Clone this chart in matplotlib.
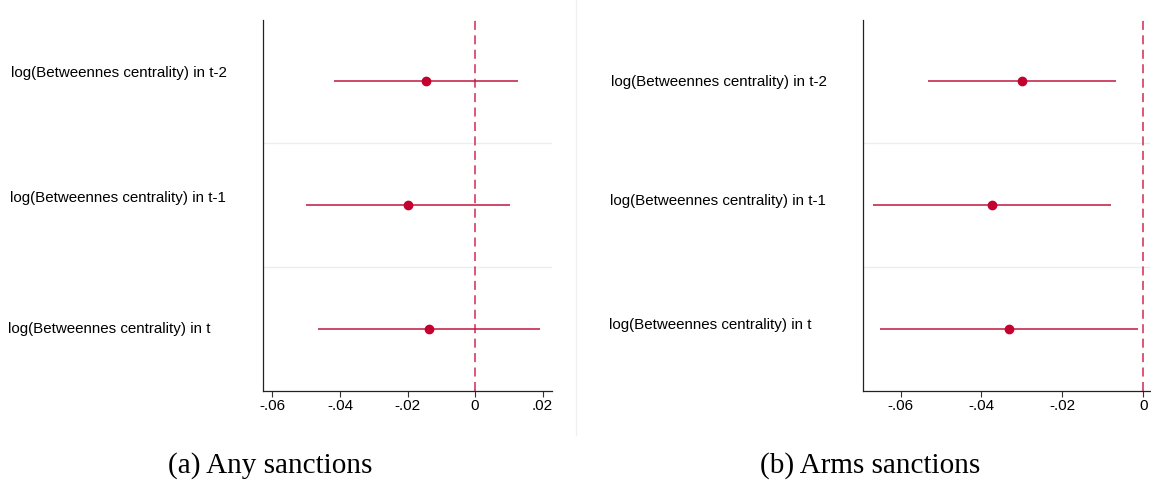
import matplotlib
matplotlib.use("Agg")
import matplotlib.pyplot as plt

labels = ["log(Betweennes centrality) in t-2",
          "log(Betweennes centrality) in t-1",
          "log(Betweennes centrality) in t"]
rows = [1, 2, 3]

any_coef = [-0.0145, -0.0200, -0.0137]
any_lo = [-0.0418, -0.0502, -0.0464]
any_hi = [0.0127, 0.0103, 0.0191]

arms_coef = [-0.0300, -0.0374, -0.0331]
arms_lo = [-0.0532, -0.0667, -0.0650]
arms_hi = [-0.0068, -0.0080, -0.0013]

any_ticks = [-0.06, -0.04, -0.02, 0, 0.02]
any_ticklabels = ["-.06", "-.04", "-.02", "0", ".02"]
arms_ticks = [-0.06, -0.04, -0.02, 0]
arms_ticklabels = ["-.06", "-.04", "-.02", "0"]

captions = ["(a) Any sanctions", "(b) Arms sanctions"]

plt.rcParams['font.family'] = ['Liberation Sans', 'DejaVu Sans']

fig = plt.figure(figsize=(11.51, 4.87), dpi=100)

LINE_C = "#c0183f"
DOT_C = "#c4002f"
ZERO_C = "#d84a6e"
GRID_C = "#e9eef0"

def panel(rect, coef, lo, hi, xlim, ticks, ticklabels, label_xy):
    ax = fig.add_axes(rect)
    for r, c, l, h in zip(rows, coef, lo, hi):
        ax.plot([l, h], [r, r], color=LINE_C, lw=1.1, solid_capstyle='butt', zorder=3)
        ax.plot([c], [r], 'o', color=DOT_C, ms=6, zorder=4)
    ax.axvline(0, color=ZERO_C, lw=1.3, ls=(0, (5, 3)), zorder=2)
    for g in [1.5, 2.5]:
        ax.axhline(g, color=GRID_C, lw=1.0, zorder=1)
    ax.set_ylim(3.5, 0.5)
    ax.set_xlim(*xlim)
    ax.set_yticks([])
    ax.set_xticks(ticks)
    ax.set_xticklabels(ticklabels, fontsize=11)
    ax.tick_params(axis='x', length=4, width=0.8, color="#333333", pad=2)
    for s in ['top', 'right']:
        ax.spines[s].set_visible(False)
    for s in ['left', 'bottom']:
        ax.spines[s].set_color("#222222")
        ax.spines[s].set_linewidth(0.9)
    for lab, (x, y) in zip(labels, label_xy):
        fig.text(x / 1151, 1 - y / 487, lab, fontsize=10.9, ha='left', va='center')
    return ax

panel([263.3 / 1151, 1 - 391 / 487, (551.7 - 263.3) / 1151, (391 - 19.5) / 487],
      any_coef, any_lo, any_hi, (-0.0627, 0.0227), any_ticks, any_ticklabels,
      [(11, 73), (10, 198), (8, 329)])
panel([863.3 / 1151, 1 - 391 / 487, (1150 - 863.3) / 1151, (391 - 19.5) / 487],
      arms_coef, arms_lo, arms_hi, (-0.0692, 0.0017), arms_ticks, arms_ticklabels,
      [(611, 82), (610, 201), (609, 325)])

# faint separator
fig.add_artist(plt.Line2D([576 / 1151, 576 / 1151], [1 - 435 / 487, 1.0],
                          transform=fig.transFigure, color="#f0f0f0", lw=1.0))

fig.text(270 / 1151, 1 - 466 / 487, captions[0], fontsize=21,
         family=['Liberation Serif', 'DejaVu Serif'], ha='center', va='center')
fig.text(870 / 1151, 1 - 466 / 487, captions[1], fontsize=21,
         family=['Liberation Serif', 'DejaVu Serif'], ha='center', va='center')

fig.savefig("out.png", dpi=100)
